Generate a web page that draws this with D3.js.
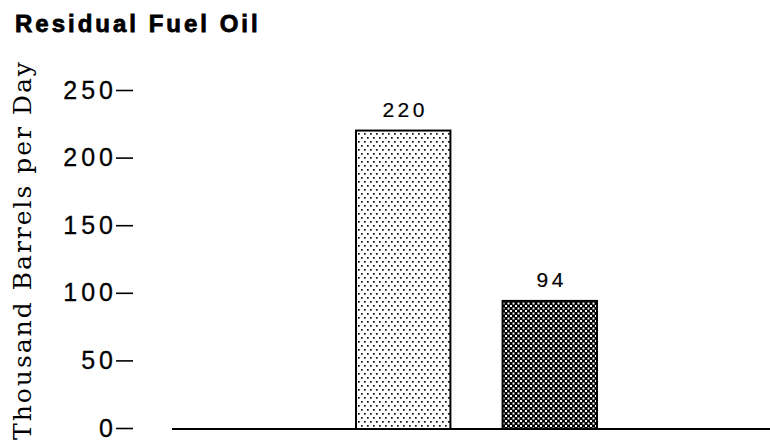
<!DOCTYPE html>
<html>
<head>
<meta charset="utf-8">
<script src="https://cdn.jsdelivr.net/npm/d3@7"></script>
<style>
  html, body { margin: 0; padding: 0; background: #fff; }
  svg { display: block; }
</style>
</head>
<body>
<svg id="chart" width="770" height="447"></svg>
<script>
// Residual fuel oil, thousand barrels per day
const categories = ["First period", "Second period"];
const values = [220, 94];
const tickValues = [0, 50, 100, 150, 200, 250];
const title = "Residual Fuel Oil";
const yTitle = "Thousand Barrels per Day";

const svg = d3.select("#chart");
const defs = svg.append("defs");

// light stipple for the first bar
const pLight = defs.append("pattern")
  .attr("id", "dotsLight").attr("patternUnits", "userSpaceOnUse")
  .attr("width", 6).attr("height", 8);
pLight.append("rect").attr("width", 6).attr("height", 8).attr("fill", "#fff");
pLight.append("rect").attr("x", 1).attr("y", 1).attr("width", 1.7).attr("height", 1.7).attr("fill", "#111");
pLight.append("rect").attr("x", 4).attr("y", 5).attr("width", 1.7).attr("height", 1.7).attr("fill", "#111");

// dense dark crosshatch for the second bar
const pDark = defs.append("pattern")
  .attr("id", "dotsDark").attr("patternUnits", "userSpaceOnUse")
  .attr("width", 5).attr("height", 5);
pDark.append("rect").attr("width", 5).attr("height", 5).attr("fill", "#000");
pDark.append("rect").attr("x", 0).attr("y", 0).attr("width", 2).attr("height", 2).attr("fill", "#fff");
pDark.append("rect").attr("x", 2.5).attr("y", 2.5).attr("width", 2).attr("height", 2).attr("fill", "#fff");

const fills = ["url(#dotsLight)", "url(#dotsDark)"];

const y = d3.scaleLinear().domain([0, 250]).range([428, 90]);
const x = d3.scaleBand().domain(categories).range([356, 597])
  .paddingInner(0.356).paddingOuter(0);

// title
svg.append("text")
  .attr("x", 15).attr("y", 32)
  .attr("font-family", "'Liberation Sans', Arial, sans-serif")
  .attr("font-weight", "bold").attr("font-size", 24)
  .attr("letter-spacing", 3)
  .attr("fill", "#000").attr("stroke", "#000").attr("stroke-width", 0.8)
  .text(title);

// y-axis title
svg.append("text")
  .attr("transform", "translate(31,251) rotate(-90)")
  .attr("text-anchor", "middle")
  .attr("font-family", "'DejaVu Serif', serif")
  .attr("font-size", 25)
  .attr("textLength", 378).attr("lengthAdjust", "spacing")
  .attr("fill", "#000")
  .text(yTitle);

// y axis: ticks drawn as short dashes after each label
const yAxis = d3.axisLeft(y).tickValues(tickValues).tickSize(17).tickPadding(3);
const gy = svg.append("g").attr("transform", "translate(133,0)").call(yAxis);
gy.select(".domain").remove();
gy.selectAll(".tick line").attr("stroke", "#000").attr("stroke-width", 1.6);
gy.selectAll(".tick text")
  .attr("font-family", "'Liberation Sans', Arial, sans-serif")
  .attr("font-size", 25).attr("fill", "#000")
  .attr("stroke", "#000").attr("stroke-width", 0.3)
  .attr("letter-spacing", 4).attr("dx", 4);

// baseline
svg.append("line")
  .attr("x1", 172).attr("x2", 770)
  .attr("y1", y(0) + 1).attr("y2", y(0) + 1)
  .attr("stroke", "#000").attr("stroke-width", 2);

// bars
svg.selectAll("rect.bar").data(values).join("rect")
  .attr("class", "bar")
  .attr("x", (d, i) => x(categories[i]))
  .attr("width", x.bandwidth())
  .attr("y", d => y(d))
  .attr("height", d => y(0) - y(d) + 1)
  .attr("fill", (d, i) => fills[i])
  .attr("stroke", "#000").attr("stroke-width", 2);

// value labels
svg.selectAll("text.val").data(values).join("text")
  .attr("class", "val")
  .attr("x", (d, i) => x(categories[i]) + x.bandwidth() / 2 + 2)
  .attr("y", d => y(d) - 14)
  .attr("text-anchor", "middle")
  .attr("font-family", "'Liberation Sans', Arial, sans-serif")
  .attr("font-size", 21).attr("letter-spacing", 3.5)
  .attr("fill", "#000").attr("stroke", "#000").attr("stroke-width", 0.2)
  .text(d => d);
</script>
</body>
</html>
